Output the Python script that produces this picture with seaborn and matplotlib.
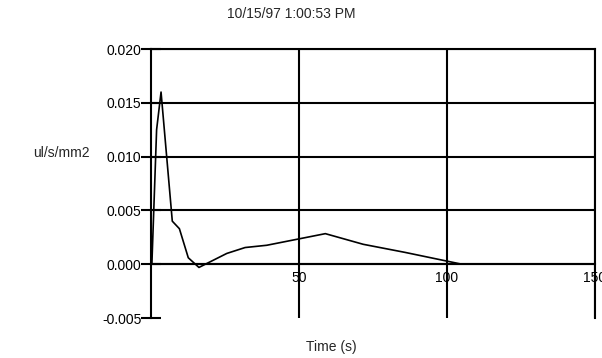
import matplotlib
matplotlib.use('Agg')
import matplotlib.pyplot as plt
import seaborn as sns

# values
time_s = [0.3, 1.9, 3.4, 7.2, 9.6, 12.6, 16.2, 25.6, 31.8, 39.1, 58.9, 71.7, 85.8, 105.0]
flux = [0.0, 0.0125, 0.0160, 0.0040, 0.0033, 0.0006, -0.0003, 0.0010, 0.00155,
        0.00176, 0.00284, 0.00185, 0.0011, 0.0]
x_ticks = [50, 100, 150]
y_ticks = [-0.005, 0.000, 0.005, 0.010, 0.015, 0.020]
y_tick_labels = ['-0.005', '0.000', '0.005', '0.010', '0.015', '0.020']

sns.set_style('white')
plt.rcParams['font.family'] = ['Liberation Sans', 'DejaVu Sans']

fig = plt.figure(figsize=(6.02, 3.58), dpi=100)
ax = fig.add_axes([0.2508, 0.1117, 0.7376, 0.7514])

sns.lineplot(x=time_s, y=flux, ax=ax, color='black', linewidth=1.2)

ax.set_xlim(0, 150)
ax.set_ylim(-0.005, 0.020)
ax.set_xticks(x_ticks)
ax.set_xticklabels([str(t) for t in x_ticks])
ax.set_yticks(y_ticks)
ax.set_yticklabels(y_tick_labels)

ax.grid(True, color='black', linewidth=1.5)
ax.get_ygridlines()[0].set_visible(False)

for s in ['left', 'right', 'top']:
    ax.spines[s].set_visible(True)
    ax.spines[s].set_color('black')
    ax.spines[s].set_linewidth(1.5)
ax.spines['bottom'].set_position(('data', 0))
ax.spines['bottom'].set_color('black')
ax.spines['bottom'].set_linewidth(1.5)

ax.tick_params(axis='y', left=True, direction='inout', length=14, width=1.5, pad=0,
               labelsize=10, colors='black')
ax.tick_params(axis='x', length=0, pad=5, labelsize=10, colors='black')

fig.text(0.483, 0.962, '10/15/97 1:00:53 PM', ha='center', va='center', fontsize=10)
fig.text(0.102, 0.573, 'ul/s/mm2', ha='center', va='center', fontsize=10)
fig.text(0.551, 0.031, 'Time (s)', ha='center', va='center', fontsize=10)

fig.savefig('out.png', dpi=100)
